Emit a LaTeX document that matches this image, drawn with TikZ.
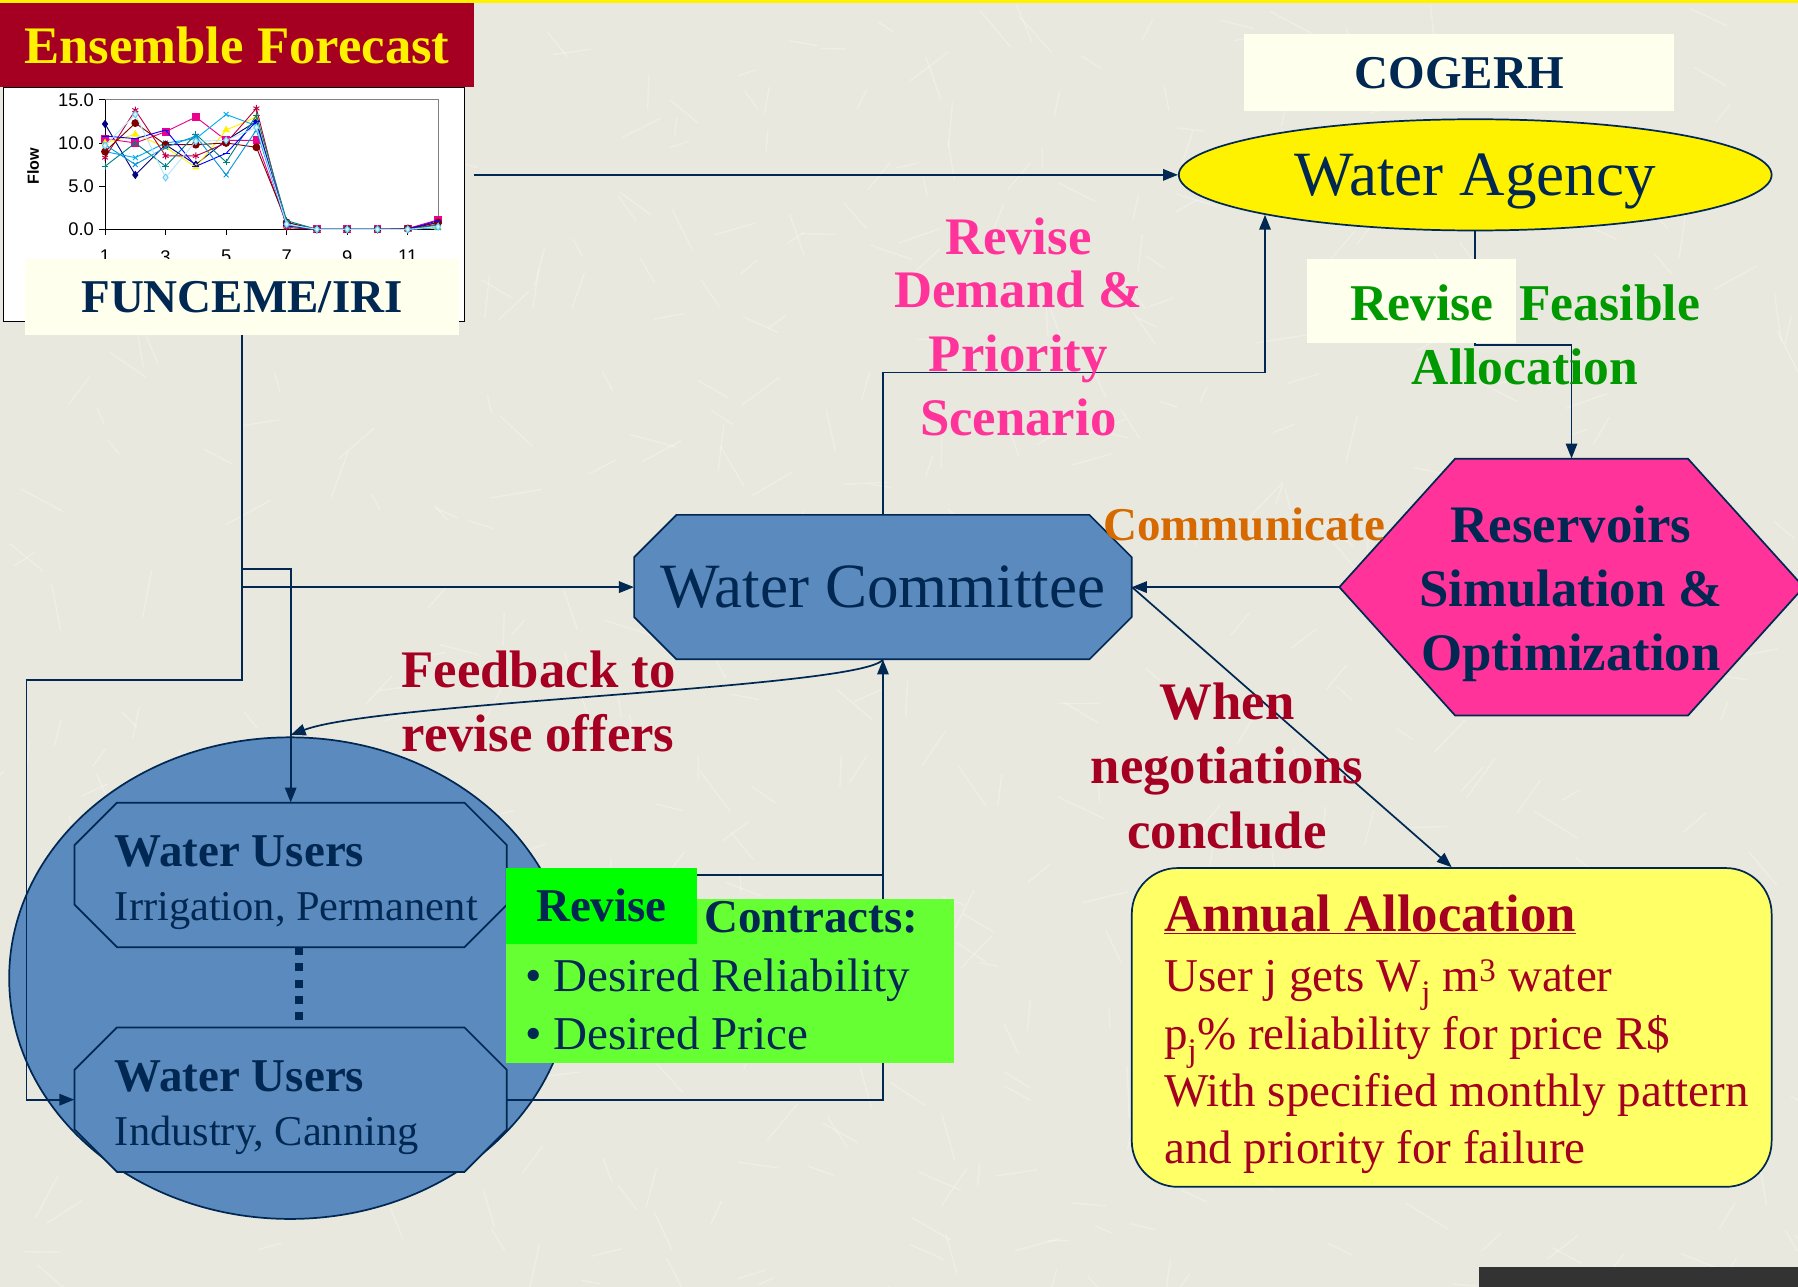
\documentclass[tikz,border=0pt]{standalone}
\usepackage{fontspec}
\setmainfont{Liberation Serif}
\setsansfont{Liberation Sans}
\usetikzlibrary{arrows.meta,shapes.geometric,plotmarks}

\definecolor{navy}{RGB}{0,40,82}
\definecolor{maroon}{RGB}{165,0,33}
\definecolor{steel}{RGB}{90,138,190}
\definecolor{hotpink}{RGB}{255,51,153}
\definecolor{cream}{RGB}{255,255,238}
\definecolor{leaf}{RGB}{0,153,0}
\definecolor{revisegreen}{RGB}{0,255,0}
\definecolor{contractgreen}{RGB}{102,255,51}
\definecolor{paleyellow}{RGB}{255,255,102}
\definecolor{amber}{RGB}{214,106,0}
\definecolor{canvas}{RGB}{232,232,222}
\definecolor{slate}{RGB}{51,51,51}

\begin{document}
\begin{tikzpicture}[x=1pt, y=-1pt, every node/.style={inner sep=0pt},
    link/.style={draw=navy, line width=1.5pt},
    arr/.style={link, -{Triangle[length=13pt,width=10pt]}},
    shapefill/.style={fill=#1, draw=navy, line width=1.5pt},
    headtext/.style={font=\fontsize{46}{56}\selectfont\bfseries},
    plaintext/.style={font=\fontsize{41}{50}\selectfont},
    axislabel/.style={font=\sffamily\fontsize{16}{18}\selectfont},
    ser/.style={line width=0.8pt, mark size=3pt}]

  % Canvas
  \useasboundingbox (0,0) rectangle (1568,1122);
  \fill[canvas] (0,0) rectangle (1568,1122);
  \pgfmathsetseed{7}
  \foreach \i in {1,...,500} {
    \pgfmathsetmacro\sx{rnd*1568}
    \pgfmathsetmacro\sy{rnd*1122}
    \pgfmathsetmacro\sa{rnd*180}
    \pgfmathsetmacro\sl{15+rnd*30}
    \draw[white, opacity=0.3, line width=1.2pt] (\sx,\sy) -- ++(\sa:\sl);
  }
  \fill[yellow] (0,0) rectangle (1568,3);
  \fill[slate] (1290,1105) rectangle (1568,1122);

  % Ensemble forecast chart
  \node[fill=white, draw=black, line width=1pt, minimum width=402pt, minimum height=204pt] (chart) at (204,178) {};
  \begin{scope}[shift={(65.2,200)}, x=26.4pt, y=7.533pt]
    \draw[gray, line width=0.8pt] (1,15) -- (12,15) -- (12,0);
    \draw[line width=0.8pt] (1,15) -- (1,0) -- (12,0);
    \foreach \v in {0,5,10,15} {
      \draw[line width=0.8pt] (1,\v) -- ++(-5pt,0);
      \node[axislabel, anchor=east] at (0.64,\v) {\v.0};
    }
    \foreach \m in {1,3,...,11} {
      \draw[line width=0.8pt] (\m,0) -- ++(0,-5pt);
      \node[axislabel, anchor=north] at ([yshift=-18pt]\m,0) {\m};
    }
    \draw[ser, color=blue!50!black, mark=diamond*] plot coordinates {(1,12.2) (2,6.3) (3,9.8) (4,7.5) (5,10.3) (6,12.5) (7,0.3) (8,0) (9,0) (10,0) (11,0) (12,0.8)};
    \draw[ser, color=magenta, mark=square*] plot coordinates {(1,10.5) (2,10.0) (3,11.3) (4,13.0) (5,10.3) (6,10.3) (7,0.5) (8,0) (9,0) (10,0) (11,0.1) (12,1.1)};
    \draw[ser, color=yellow, mark=triangle*] plot coordinates {(1,10.0) (2,11.0) (3,9.5) (4,7.2) (5,11.5) (6,13.0) (7,0.3) (8,0) (9,0) (10,0) (11,0) (12,0.2)};
    \draw[ser, color=cyan, mark=x] plot coordinates {(1,9.0) (2,8.3) (3,10.0) (4,10.5) (5,13.3) (6,12.0) (7,0.8) (8,0) (9,0) (10,0) (11,0) (12,0.3)};
    \draw[ser, color=purple, mark=asterisk] plot coordinates {(1,8.3) (2,13.8) (3,8.5) (4,8.5) (5,10.0) (6,14.0) (7,0.2) (8,0) (9,0) (10,0) (11,0) (12,0.6)};
    \draw[ser, color=red!50!black, mark=*] plot coordinates {(1,9.0) (2,12.3) (3,9.8) (4,9.8) (5,10.0) (6,9.5) (7,0.8) (8,0) (9,0) (10,0) (11,0.1) (12,0.8)};
    \draw[ser, color=teal, mark=+] plot coordinates {(1,7.3) (2,10.0) (3,7.3) (4,11.0) (5,7.8) (6,13.2) (7,1.0) (8,0) (9,0) (10,0) (11,0) (12,0.5)};
    \draw[ser, color=blue, mark=-] plot coordinates {(1,10.8) (2,10.5) (3,11.5) (4,7.3) (5,8.8) (6,12.5) (7,0.4) (8,0) (9,0) (10,0) (11,0) (12,1.0)};
    \draw[ser, color=cyan!80!blue, mark=x] plot coordinates {(1,9.8) (2,7.5) (3,9.5) (4,10.8) (5,6.3) (6,11.5) (7,0.5) (8,0) (9,0) (10,0) (11,0) (12,0.2)};
    \draw[ser, color=cyan!30, mark=diamond*, mark options={fill=cyan!15, draw=cyan!60}] plot coordinates {(1,9.7) (2,13.3) (3,6.0) (4,10.2) (5,10.3) (6,11.8) (7,0.6) (8,0) (9,0) (10,0) (11,0) (12,0.3)};
  \end{scope}
  \node[font=\sffamily\bfseries\fontsize{14}{16}\selectfont, rotate=90] (flow) at (29,145) {Flow};
  \node[fill=maroon, text=yellow, headtext, minimum width=413pt, minimum height=73pt] (ensemble) at (206.5,39.5) {Ensemble Forecast};
  \node[fill=cream, text=navy, font=\fontsize{41}{50}\selectfont\bfseries, minimum width=378pt, minimum height=66pt] (funceme) at (211,259) {FUNCEME/IRI};

  % Water Agency
  \node[fill=cream, text=navy, font=\fontsize{41}{50}\selectfont\bfseries, minimum width=375pt, minimum height=67pt] (cogerh) at (1272.5,63.5) {COGERH};
  \node[ellipse, shapefill=yellow, text=navy, font=\fontsize{55}{66}\selectfont, text depth=0pt, minimum width=517pt, minimum height=97pt] (agency) at (1286.5,152.5) {Water Agency};

  % Water Users
  \node[ellipse, shapefill=steel, minimum width=490pt, minimum height=420pt] (usersgroup) at (253,853) {};
  \foreach \t in {700,896}
    \filldraw[shapefill=steel] (102,\t) -- ++(303,0) -- ++(37,37) -- ++(0,52) -- ++(-37,37) -- ++(-303,0) -- ++(-37,-37) -- ++(0,-52) -- cycle;
  \node[minimum width=377pt, minimum height=126pt] (users1) at (253.5,763) {};
  \node[minimum width=377pt, minimum height=126pt] (users2) at (253.5,959) {};
  \draw[navy, line width=7pt, dash pattern=on 7pt off 7pt] ([xshift=7.5pt]users1.south) -- ++(0,63);

  % Water Committee
  \filldraw[shapefill=steel] (590,449) -- (950,449) -- (987,486) -- (987,538) -- (950,575) -- (590,575) -- (553,538) -- (553,486) -- cycle;
  \node[text=navy, font=\fontsize{55}{66}\selectfont, minimum width=434pt, minimum height=126pt] (committee) at (770,512) {Water Committee};

  % Reservoirs
  \filldraw[shapefill=hotpink] (1168,512) -- (1269,400) -- (1472,400) -- (1573,512) -- (1472,624) -- (1269,624) -- cycle;
  \node[minimum width=405pt, minimum height=224pt] (reservoir) at (1370.5,512) {};

  % Annual allocation
  \node[rectangle, rounded corners=40pt, shapefill=paleyellow, minimum width=558pt, minimum height=278pt] (annual) at (1266,896) {};

  % Connectors
  \draw[arr] (ensemble.east |- agency.west) -- (agency.west);
  \draw[arr] (funceme.south) -- (funceme.south |- 0,593) -- (23,593) |- (users2.west);
  \draw[arr] (funceme.south |- committee.west) -- (committee.west);
  \draw[arr] (funceme.south |- 0,496) -| (users1.north);
  \coordinate (fbtip) at (users1.north |- 0,641);
  \draw[arr] (committee.south) .. controls (752,600) and (330,612) .. (fbtip);
  \draw[link] (users1.east) -- (users1.east -| committee.south);
  \draw[arr] (users2.east) -| (committee.south);
  \draw[arr] (committee.north) -- ++(0,-124) -| (agency.south west);
  \draw[arr] (agency.south) -- ++(0,99) -| (reservoir.north);
  \draw[arr] (reservoir.west) -- (committee.east);
  \draw[arr] (committee.east) -- (annual.north);

  % Boxes over the lines
  \node[fill=cream, minimum width=182pt, minimum height=73pt] (revisebg) at (1231,262.5) {};
  \node[fill=contractgreen, minimum width=391pt, minimum height=143pt] (contracts) at (636.5,855.5) {};
  \node[fill=revisegreen, text=navy, font=\fontsize{41}{50}\selectfont\bfseries, minimum width=167pt, minimum height=66pt] (revise) at (524.5,790) {Revise};

  % Labels
  \node[text=navy, font=\fontsize{41}{50}\selectfont\bfseries, anchor=west] (contractstxt) at (614,800) {Contracts:};
  \node[plaintext, text=navy, align=left, anchor=west] (wishes) at (458,876) {\textbullet\ Desired Reliability\\\textbullet\ Desired Price};
  \node[font=\fontsize{37}{47}\selectfont, text=navy, align=left, anchor=west] (users1txt) at (100,770) {{\fontsize{41}{47}\selectfont\bfseries Water Users}\\Irrigation, Permanent};
  \node[font=\fontsize{37}{47}\selectfont, text=navy, align=left, anchor=west] (users2txt) at (100,966) {{\fontsize{41}{47}\selectfont\bfseries Water Users}\\Industry, Canning};
  \node[headtext, text=navy, align=center] (reservoirtxt) at (1370,518) {Reservoirs\\Simulation \&\\Optimization};
  \node[headtext, text=hotpink, align=center] (revdemand) at (888,285) {Revise\\[-10pt]Demand \&\\Priority\\Scenario};
  \node[font=\fontsize{45}{56}\selectfont\bfseries, text=leaf, align=center] (feasible) at (1330,292) {Revise\ \ Feasible\\Allocation};
  \node[font=\fontsize{41}{50}\selectfont\bfseries, text=amber] (communicate) at (1085,457) {Communicate};
  \node[headtext, text=maroon, align=left, anchor=west] (feedback) at (350,612) {Feedback to\\revise offers};
  \node[headtext, text=maroon, align=center] (conclude) at (1070,668) {When\\negotiations\\conclude};
  \node[plaintext, text=maroon, align=left, anchor=west] (annualtxt) at (1015,902)
    {{\fontsize{46}{50}\selectfont\bfseries\underline{Annual Allocation}}\\[3pt]
     User j gets W\textsubscript{j} m\textsuperscript{3} water\\
     p\textsubscript{j}\% reliability for price R\$\\
     With specified monthly pattern\\
     and priority for failure};

\end{tikzpicture}
\end{document}
